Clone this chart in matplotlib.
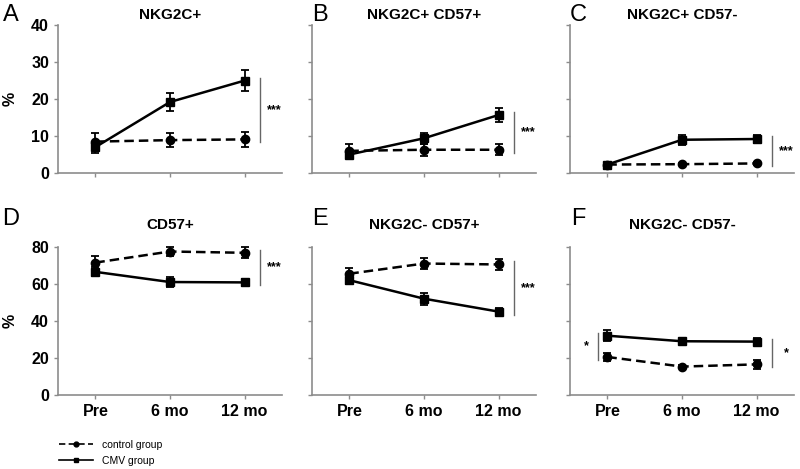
import numpy as np
import matplotlib.pyplot as plt
from matplotlib.lines import Line2D

plt.rcParams['font.family'] = ['Liberation Sans', 'DejaVu Sans']

TIMEPOINTS = ["Pre", "6 mo", "12 mo"]
PANEL_LETTERS = ["A", "B", "C", "D", "E", "F"]
PANEL_TITLES = ["NKG2C+", "NKG2C+ CD57+", "NKG2C+ CD57-",
                "CD57+", "NKG2C- CD57+", "NKG2C- CD57-"]

# mean values (%)
control_mean = [
    [8.5, 8.9, 9.1],
    [6.0, 6.3, 6.3],
    [2.3, 2.4, 2.6],
    [71.5, 77.5, 76.8],
    [65.5, 71.0, 70.5],
    [20.5, 15.3, 16.5],
]
control_err = [
    [2.3, 1.9, 2.0],
    [1.8, 1.6, 1.5],
    [0.3, 0.3, 0.3],
    [3.5, 2.3, 3.0],
    [3.2, 3.2, 3.0],
    [2.3, 1.0, 2.3],
]
cmv_mean = [
    [7.0, 19.2, 25.0],
    [5.0, 9.4, 15.7],
    [2.3, 9.0, 9.2],
    [66.5, 61.0, 60.8],
    [62.0, 52.0, 45.0],
    [32.0, 29.0, 28.8],
]
cmv_err = [
    [1.5, 2.5, 2.8],
    [1.0, 1.5, 2.0],
    [0.4, 1.3, 1.2],
    [2.5, 2.5, 2.0],
    [2.3, 3.2, 2.0],
    [3.0, 1.0, 1.8],
]

# significance marks
sig_right = ["***", "***", "***", "***", "***", "*"]
sig_left_panel = 5
sig_left_text = "*"

AX_GREY = "#8c8c8c"
DASH = (0, (3.8, 2.0))


def style_axis(ax, ymax, show_ylabels, show_xlabels):
    ax.set_xlim(-0.5, 2.5)
    ax.set_ylim(0, ymax)
    ax.set_yticks(np.linspace(0, ymax, 5))
    ax.set_xticks(range(len(TIMEPOINTS)))
    for side in ["top", "right"]:
        ax.spines[side].set_visible(False)
    for side in ["left", "bottom"]:
        ax.spines[side].set_color(AX_GREY)
        ax.spines[side].set_linewidth(1.2)
    ax.tick_params(colors=AX_GREY, length=3, width=1, labelcolor="black",
                   labelsize=11.5)
    if show_ylabels:
        ax.set_yticklabels([f"{int(v)}" for v in np.linspace(0, ymax, 5)],
                           fontweight="bold")
        ax.set_ylabel("%", fontsize=11.5, fontweight="bold", labelpad=10)
    else:
        ax.set_yticklabels([])
    if show_xlabels:
        ax.set_xticklabels(TIMEPOINTS, fontweight="bold")
    else:
        ax.set_xticklabels([])


def sig_bar(ax, x, y0, y1, text, text_dx):
    ax.plot([x, x], [y0, y1], color="#666666", lw=1, clip_on=False)
    ax.text(x + text_dx, (y0 + y1) / 2, text, ha="center", va="center",
            fontsize=9, fontweight="bold", clip_on=False)


def main():
    fig = plt.figure(figsize=(8, 4.69), dpi=100)
    lefts = [0.0725, 0.39, 0.7125]
    bottoms = [0.631, 0.158]
    x = np.arange(len(TIMEPOINTS))

    for i in range(6):
        row, col = divmod(i, 3)
        ax = fig.add_axes([lefts[col], bottoms[row], 0.28, 0.3156])
        ymax = 40 if row == 0 else 80
        style_axis(ax, ymax, col == 0, row == 1)

        ax.errorbar(x, control_mean[i], yerr=control_err[i], color="black",
                    ls=DASH, lw=1.8, marker="o", ms=6, capsize=3.2,
                    elinewidth=1.3, capthick=1.3, clip_on=False, zorder=3)
        ax.errorbar(x, cmv_mean[i], yerr=cmv_err[i], color="black",
                    ls="-", lw=1.8, marker="s", ms=6, capsize=3.2,
                    elinewidth=1.3, capthick=1.3, clip_on=False, zorder=3)

        lo = min(control_mean[i][-1], cmv_mean[i][-1])
        hi = max(control_mean[i][-1], cmv_mean[i][-1])
        sig_bar(ax, 2.2, lo - 0.02 * ymax, hi + 0.02 * ymax, sig_right[i], 0.2)
        if i == sig_left_panel:
            lo = min(control_mean[i][0], cmv_mean[i][0])
            hi = max(control_mean[i][0], cmv_mean[i][0])
            sig_bar(ax, -0.13, lo - 0.02 * ymax, hi + 0.02 * ymax,
                    sig_left_text, -0.15)

        title_pad = 4 if row == 0 else 13
        letter_y = 1.07 if row == 0 else 1.19
        ax.set_title(PANEL_TITLES[i], fontsize=11, fontweight="bold",
                     pad=title_pad)
        ax.text(-0.21 if col == 0 else 0.035, letter_y, PANEL_LETTERS[i],
                transform=ax.transAxes, fontsize=17, ha="center", va="center")

    handles = [
        Line2D([], [], color="black", ls=DASH, lw=1.2, marker="o", ms=3.5),
        Line2D([], [], color="black", ls="-", lw=1.2, marker="s", ms=3.5),
    ]
    fig.legend(handles, ["control group", "CMV group"], loc="upper left",
               bbox_to_anchor=(0.062, 0.082), frameon=False, fontsize=7.5,
               handlelength=3.3, labelspacing=0.55, handletextpad=0.8)

    fig.savefig("out.png", dpi=100)


if __name__ == '__main__':
    main()
